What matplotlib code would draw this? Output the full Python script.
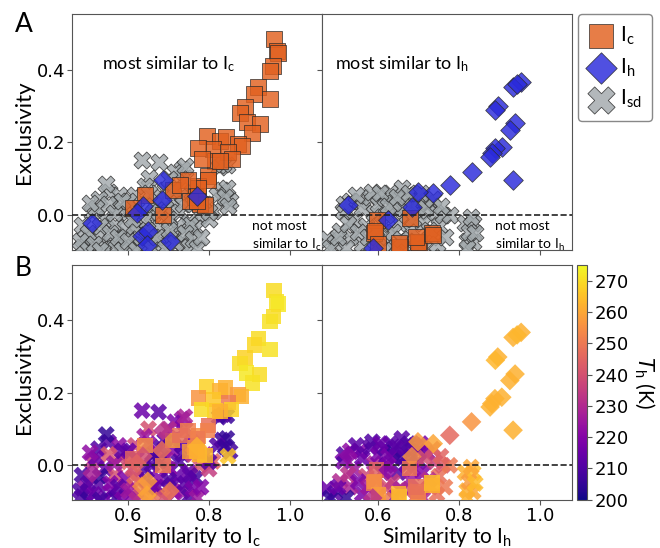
import numpy as np
import matplotlib
matplotlib.use("Agg")
import matplotlib.pyplot as plt

plt.rcParams['font.family'] = ['Lato', 'DejaVu Sans']
plt.rcParams['mathtext.default'] = 'regular'

# rows are [similarity, exclusivity, T_h (K)]
# left panels: similarity to Ic ; right panels: similarity to Ih
ic_left = np.array([
    [0.961, 0.483, 270], [0.968, 0.451, 271], [0.972, 0.445, 272], [0.959, 0.410, 270], [0.951, 0.396, 271],
    [0.922, 0.351, 270], [0.912, 0.332, 269], [0.951, 0.319, 271], [0.889, 0.296, 268], [0.877, 0.282, 270],
    [0.893, 0.255, 272], [0.926, 0.250, 270], [0.907, 0.227, 271],
    [0.794, 0.218, 268], [0.827, 0.205, 262], [0.841, 0.214, 262], [0.872, 0.195, 258], [0.881, 0.191, 262],
    [0.810, 0.182, 266], [0.848, 0.173, 250], [0.856, 0.154, 268], [0.773, 0.186, 256], [0.815, 0.150, 266],
    [0.782, 0.154, 270], [0.798, 0.109, 248], [0.773, 0.081, 255], [0.777, 0.031, 262], [0.765, 0.049, 258],
    [0.797, 0.096, 252], [0.772, 0.074, 250], [0.790, 0.027, 264], [0.710, 0.069, 258], [0.641, 0.055, 255],
    [0.611, 0.019, 245], [0.753, 0.038, 258], [0.748, 0.096, 252], [0.728, 0.082, 248], [0.686, 0.000, 250],
    [0.827, 0.148, 262], [0.770, 0.038, 262],
])
ih_left = np.array([
    [0.686, 0.096, 232], [0.510, -0.022, 228], [0.636, 0.025, 240], [0.621, 0.005, 245], [0.633, -0.058, 255],
    [0.648, -0.044, 258], [0.646, -0.082, 260], [0.703, -0.071, 250], [0.683, 0.041, 248], [0.770, 0.052, 262],
])
isd_left = np.array([
    [0.634, 0.151, 215], [0.675, 0.147, 212], [0.650, 0.101, 240], [0.733, 0.128, 222], [0.741, 0.101, 225],
    [0.715, 0.120, 218], [0.740, 0.134, 228],
    [0.825, 0.133, 208], [0.844, 0.137, 206], [0.835, 0.140, 210], [0.832, 0.070, 207], [0.844, 0.074, 205],
    [0.820, 0.055, 210], [0.852, 0.038, 208], [0.840, 0.050, 206],
    [0.551, 0.064, 212], [0.576, 0.055, 222], [0.526, 0.046, 210], [0.617, 0.055, 238], [0.667, 0.037, 215],
    [0.708, 0.042, 220], [0.733, 0.055, 212], [0.758, 0.064, 218],
    [0.510, 0.010, 232], [0.543, -0.009, 215], [0.485, -0.027, 208], [0.567, -0.027, 240], [0.600, 0.010, 245],
    [0.592, -0.036, 218], [0.658, 0.001, 212], [0.692, 0.019, 225], [0.725, 0.010, 210], [0.750, -0.018, 215],
    [0.766, -0.036, 208],
    [0.493, -0.063, 222], [0.526, -0.054, 212], [0.559, -0.072, 218], [0.592, -0.063, 230], [0.625, -0.045, 245],
    [0.675, -0.036, 220], [0.708, -0.054, 212], [0.733, -0.072, 225], [0.683, -0.077, 248],
    [0.485, -0.086, 210], [0.543, -0.091, 215], [0.609, -0.086, 222], [0.750, -0.086, 210], [0.777, 0.000, 242],
    [0.753, -0.027, 212], [0.810, 0.011, 245], [0.790, 0.030, 225], [0.800, -0.010, 235],
    [0.640, 0.080, 225], [0.690, 0.070, 212], [0.700, 0.100, 230], [0.620, 0.020, 218], [0.640, -0.010, 210],
    [0.660, -0.060, 218], [0.580, 0.020, 238], [0.530, -0.030, 205], [0.500, -0.050, 212], [0.570, -0.090, 208],
    [0.630, -0.080, 240], [0.720, -0.030, 214], [0.700, -0.010, 222], [0.660, 0.030, 210], [0.550, 0.030, 242],
    [0.600, 0.040, 215], [0.680, 0.050, 210], [0.847, 0.025, 266],
    [0.480, -0.070, 210], [0.500, -0.095, 206], [0.515, -0.080, 215], [0.530, -0.095, 208], [0.555, -0.050, 220],
    [0.575, -0.060, 212], [0.585, -0.095, 218], [0.600, -0.070, 225], [0.615, -0.030, 245], [0.620, -0.095, 230],
    [0.645, -0.040, 212], [0.655, -0.090, 250], [0.670, -0.060, 215], [0.690, -0.090, 240], [0.700, -0.040, 210],
    [0.715, -0.075, 222], [0.740, -0.050, 212], [0.760, -0.065, 218], [0.770, -0.090, 225], [0.520, 0.020, 215],
    [0.565, 0.005, 225], [0.585, 0.040, 212], [0.610, -0.010, 240], [0.650, 0.060, 222], [0.675, 0.010, 208],
    [0.710, 0.070, 215], [0.735, 0.030, 210], [0.760, 0.030, 235], [0.780, -0.060, 220], [0.800, 0.010, 210],
    [0.545, 0.085, 205], [0.505, 0.035, 222],
])

ic_right = np.array([
    [0.596, -0.013, 245], [0.588, -0.049, 252], [0.591, -0.044, 255], [0.653, -0.087, 268], [0.650, -0.077, 262],
    [0.700, -0.077, 255], [0.698, -0.072, 250], [0.733, -0.049, 265], [0.735, -0.055, 262], [0.678, -0.008, 250],
    [0.693, -0.060, 248], [0.600, -0.080, 258],
])
ih_right = np.array([
    [0.954, 0.367, 262], [0.934, 0.353, 262], [0.944, 0.360, 263], [0.896, 0.299, 262], [0.890, 0.290, 263],
    [0.939, 0.252, 262], [0.926, 0.234, 262], [0.906, 0.188, 262], [0.889, 0.184, 262], [0.881, 0.170, 262],
    [0.877, 0.161, 262], [0.934, 0.097, 262], [0.831, 0.120, 256], [0.777, 0.083, 246], [0.736, 0.060, 260],
    [0.698, 0.065, 258], [0.683, 0.024, 255], [0.525, 0.027, 222], [0.624, -0.013, 222], [0.586, -0.090, 232],
])
isd_right = np.array([
    [0.472, -0.065, 215], [0.492, -0.077, 212], [0.505, -0.044, 230], [0.512, 0.011, 218], [0.530, 0.040, 222],
    [0.554, 0.038, 220], [0.540, -0.010, 225], [0.560, 0.020, 215], [0.570, -0.030, 238], [0.580, 0.050, 212],
    [0.590, 0.005, 228], [0.600, 0.030, 218], [0.616, 0.047, 210], [0.610, -0.020, 215], [0.620, -0.060, 240],
    [0.630, 0.060, 212], [0.640, 0.020, 222], [0.650, -0.020, 210], [0.658, 0.074, 212], [0.665, 0.045, 208],
    [0.670, 0.000, 215], [0.680, -0.040, 225], [0.690, 0.055, 218], [0.700, 0.010, 212], [0.710, -0.020, 220],
    [0.720, 0.035, 215], [0.730, -0.060, 245], [0.740, 0.010, 235], [0.750, -0.030, 248], [0.760, 0.000, 242],
    [0.560, -0.080, 218], [0.600, -0.085, 245], [0.640, -0.090, 222], [0.670, -0.070, 240], [0.710, -0.090, 230],
    [0.530, -0.060, 228], [0.620, 0.000, 212], [0.660, 0.020, 208], [0.700, 0.040, 212], [0.520, -0.090, 205],
    [0.777, 0.000, 250], [0.815, -0.020, 262], [0.835, -0.020, 264], [0.819, -0.070, 262], [0.835, -0.073, 260],
    [0.825, -0.045, 258], [0.635, 0.035, 206], [0.680, 0.025, 210],
    [0.480, -0.090, 205], [0.500, -0.060, 215], [0.515, 0.030, 210], [0.525, -0.025, 232], [0.545, 0.055, 212],
    [0.550, -0.045, 218], [0.575, -0.060, 225], [0.585, 0.065, 210], [0.595, -0.040, 240], [0.605, 0.060, 215],
    [0.615, -0.095, 250], [0.625, 0.025, 218], [0.635, -0.045, 235], [0.645, 0.050, 212], [0.655, -0.065, 228],
    [0.675, 0.060, 210], [0.685, -0.010, 222], [0.695, -0.085, 245], [0.705, 0.060, 218], [0.715, 0.020, 240],
    [0.725, -0.040, 232], [0.735, 0.045, 238], [0.745, -0.080, 248], [0.755, 0.025, 245], [0.765, -0.060, 250],
    [0.820, -0.090, 262], [0.830, -0.005, 260], [0.840, -0.050, 264],
])

labels = [r'$\mathregular{I_c}$', r'$\mathregular{I_h}$', r'$\mathregular{I_{sd}}$']
colors = ['#E2601F', '#2A2ADB', '#A2A9AC']
markers = ['s', 'D', 'X']
sizes = [120, 100, 150]
x_ticks = [0.6, 0.8, 1.0]
y_ticks = [0.0, 0.2, 0.4]
cbar_ticks = [200, 210, 220, 230, 240, 250, 260, 270]

fig = plt.figure(figsize=(6.6, 5.48), dpi=100)
L, W = 0.109, 0.3788
ax_tl = fig.add_axes([L, 0.544, W, 0.4307])
ax_tr = fig.add_axes([L + W, 0.544, W, 0.4307], sharex=ax_tl, sharey=ax_tl)
ax_bl = fig.add_axes([L, 0.088, W, 0.4285], sharex=ax_tl, sharey=ax_tl)
ax_br = fig.add_axes([L + W, 0.088, W, 0.4285], sharex=ax_tl, sharey=ax_tl)
cax = fig.add_axes([0.874, 0.088, 0.0152, 0.4285])

panels = [(ax_tl, ax_bl, [ic_left, ih_left, isd_left], 'c'),
          (ax_tr, ax_br, [ic_right, ih_right, isd_right], 'h')]
draw_order = [2, 0, 1]  # Isd underneath, then Ic, then Ih

handles = {}
for ax_top, ax_bot, series, sub in panels:
    for k in draw_order:
        d = series[k]
        h = ax_top.scatter(d[:, 0], d[:, 1], s=sizes[k], marker=markers[k], c=colors[k],
                           edgecolors='#2a2a2a', linewidths=0.6, alpha=0.82, zorder=3)
        handles.setdefault(k, h)
        sc = ax_bot.scatter(d[:, 0], d[:, 1], s=sizes[k], marker=markers[k], c=d[:, 2],
                            cmap='plasma', vmin=200, vmax=275, edgecolors='none', alpha=0.85, zorder=3)
    for ax in (ax_top, ax_bot):
        ax.axhline(0, color='#222222', ls='--', lw=1.2, zorder=4)
    ax_top.text(0.493 if sub == 'h' else 0.534, 0.416, 'most similar to ' + r'$\mathregular{I_%s}$' % sub,
                fontsize=13, va='center')
    ax_top.text(0.889 if sub == 'h' else 0.906, -0.058, 'not most\nsimilar to ' + r'$\mathregular{I_%s}$' % sub,
                fontsize=10, va='center', linespacing=1.4)
    ax_bot.set_xlabel('Similarity to ' + r'$\mathregular{I_%s}$' % sub, fontsize=15, labelpad=0)

ax_tl.set_xlim(0.46, 1.08)
ax_tl.set_ylim(-0.095, 0.553)
ax_tl.set_xticks(x_ticks)
ax_tl.set_yticks(y_ticks)

for ax in (ax_tl, ax_tr, ax_bl, ax_br):
    for s in ax.spines.values():
        s.set_color('#555555')
    ax.tick_params(color='#555555', labelsize=13, pad=1.5)
    for lab in ax.get_xticklabels() + ax.get_yticklabels():
        lab.set_family('DejaVu Sans')
for ax in (ax_tl, ax_tr):
    ax.tick_params(labelbottom=False)
for ax in (ax_tr, ax_br):
    ax.tick_params(labelleft=False)

ax_tl.set_ylabel('Exclusivity', fontsize=16, labelpad=2)
ax_bl.set_ylabel('Exclusivity', fontsize=16, labelpad=2)

cb = fig.colorbar(sc, cax=cax, ticks=cbar_ticks)
cb.solids.set_alpha(1)
cb.outline.set_edgecolor('#555555')
cax.tick_params(labelsize=13, color='#555555', pad=2)
for lab in cax.get_yticklabels():
    lab.set_family('DejaVu Sans')
cb.set_label(r'$\mathit{T}_h$ (K)', fontsize=15, rotation=270, labelpad=20)

fig.legend([handles[0], handles[1], handles[2]], labels, loc='upper left',
           bbox_to_anchor=(0.876, 0.974), borderaxespad=0, fontsize=15, markerscale=1.6,
           handletextpad=0.3, labelspacing=0.45, borderpad=0.5, handlelength=1.2,
           edgecolor='#888888', fancybox=True, framealpha=1)

fig.text(0.022, 0.955, 'A', fontsize=19, ha='left', va='center')
fig.text(0.022, 0.51, 'B', fontsize=19, ha='left', va='center')

fig.savefig('out.png', dpi=100)
